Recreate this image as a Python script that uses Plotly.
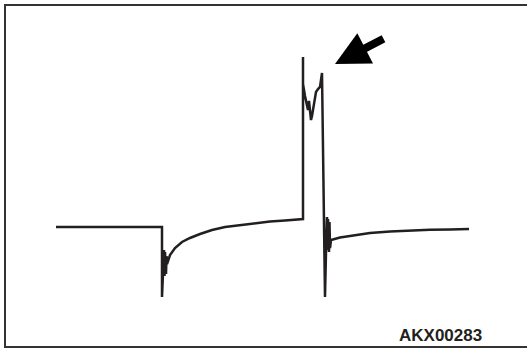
import plotly.graph_objects as go

# Waveform trace (time axis / voltage axis in picture units)
wave_x = [56, 162, 162, 163, 164, 164.5, 165, 166, 166.5, 167, 170, 175, 182, 190, 200, 212, 225, 240, 255, 270, 285, 303,
          303, 303, 305, 307, 308, 309, 310, 311, 312, 313, 315, 316, 318, 320, 322,
          325, 326, 327, 327.5, 328, 329, 329.5, 330, 331, 340, 355, 370, 390, 410, 430, 450, 469]
wave_y = [227, 227, 297, 272, 250, 276, 252, 274, 256, 264, 255, 248, 242, 238, 234, 230, 227, 225, 223, 221.5, 220.5, 219,
          57, 84, 96, 106, 110, 101, 108, 120, 116, 110, 102, 92, 89, 87, 73,
          297, 252, 217, 250, 219, 252, 222, 248, 240, 237.5, 235, 233, 231.5, 230.5, 229.8, 229.4, 229]

label_text = "AKX00283"

fig = go.Figure()
fig.add_trace(go.Scatter(x=wave_x, y=wave_y, mode="lines",
                         line=dict(color="#231f20", width=2.5), hoverinfo="skip"))

fig.add_shape(type="rect", x0=5, y0=5, x1=532, y1=347,
              line=dict(color="#333333", width=2), layer="below")

fig.add_annotation(x=335, y=64, ax=385, ay=38, xref="x", yref="y", axref="x", ayref="y",
                   text="", showarrow=True, arrowhead=2, arrowsize=0.85, arrowwidth=8,
                   arrowcolor="#000000")

fig.add_annotation(x=440, y=335, xref="x", yref="y", text="<b>" + label_text + "</b>",
                   showarrow=False, font=dict(family="Liberation Sans, Arial", size=17, color="#231f20"))

fig.update_layout(width=527, height=349, margin=dict(l=0, r=0, t=0, b=0),
                  paper_bgcolor="white", plot_bgcolor="white", showlegend=False,
                  xaxis=dict(range=[0, 527], visible=False, fixedrange=True),
                  yaxis=dict(range=[349, 0], visible=False, fixedrange=True))

fig.write_html("out.html", config={"displayModeBar": False},
               post_script="document.body.style.margin='0px';document.body.style.overflow='hidden';")
